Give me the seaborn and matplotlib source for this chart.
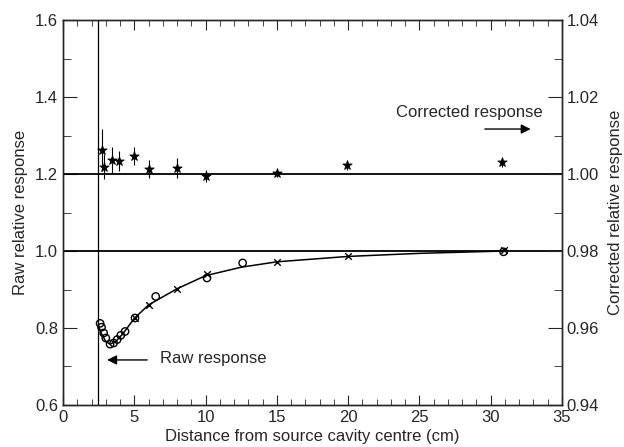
import numpy as np
import pandas as pd
import matplotlib
matplotlib.use('Agg')
import matplotlib.pyplot as plt
import seaborn as sns

sns.set_style('ticks')
plt.rcParams['font.family'] = ['Liberation Sans', 'DejaVu Sans']
plt.rcParams['axes.unicode_minus'] = False

# raw response (left axis)
curve_x = [2.5, 2.7, 3.0, 3.3, 3.7, 4.2, 5.0, 6.0, 8.0, 10.0, 12.5, 15.0, 20.0, 25.0, 30.9]
curve_y = [0.805, 0.785, 0.765, 0.758, 0.765, 0.785, 0.825, 0.860, 0.902, 0.936, 0.958, 0.972, 0.986, 0.994, 1.0]
circle_x = [2.6, 2.7, 2.85, 3.0, 3.3, 3.55, 3.8, 4.05, 4.35, 5.05, 6.5, 10.1, 12.6, 30.9]
circle_y = [0.812, 0.802, 0.787, 0.774, 0.758, 0.761, 0.770, 0.781, 0.791, 0.826, 0.882, 0.930, 0.969, 0.998]
cross_x = [5.05, 6.0, 8.0, 10.1, 15.0, 20.0, 30.9]
cross_y = [0.826, 0.859, 0.902, 0.940, 0.972, 0.986, 1.003]

# corrected response (right axis)
corr_x = [2.7, 2.9, 3.45, 3.95, 5.0, 6.0, 8.0, 10.0, 15.0, 19.9, 30.8]
corr_y = [1.0062, 1.0019, 1.0036, 1.0034, 1.0047, 1.0013, 1.0016, 0.9995, 1.0003, 1.0023, 1.0031]
corr_err = [0.0054, 0.0032, 0.0035, 0.0025, 0.0024, 0.0023, 0.0025, 0.0015, 0.0010, 0.0012, 0.0012]

cavity_edge = 2.45

fig = plt.figure(figsize=(6.24, 4.47), dpi=100)
ax = fig.add_axes([0.101, 0.094, 0.7996, 0.861])
ax2 = ax.twinx()

ax.axhline(1.0, color='black', lw=1.3)
ax.axhline(1.2, color='black', lw=1.3)
ax.axvline(cavity_edge, color='black', lw=0.9)

sns.lineplot(x=curve_x, y=curve_y, ax=ax, color='black', lw=1.1, sort=False)
sns.scatterplot(x=circle_x, y=circle_y, ax=ax, marker='o', s=28,
                facecolor='none', edgecolor='black', linewidth=1.0)
sns.scatterplot(x=cross_x, y=cross_y, ax=ax, marker='x', s=22,
                color='black', linewidth=1.0)

ax2.errorbar(corr_x, corr_y, yerr=corr_err, fmt='none', ecolor='black',
             elinewidth=0.8, capsize=0)
sns.scatterplot(x=corr_x, y=corr_y, ax=ax2, marker='*', s=50,
                color='black', edgecolor='black')

ax.set_xlim(0, 35)
ax.set_ylim(0.6, 1.6)
ax2.set_ylim(0.94, 1.04)

ax.set_xticks(np.arange(0, 36, 5))
ax.set_xticks(np.arange(0, 36, 1), minor=True)
ax.set_yticks(np.arange(0.6, 1.61, 0.2))
ax.set_yticks(np.arange(0.6, 1.61, 0.1), minor=True)
ax.set_yticklabels(['0.6', '0.8', '1.0', '1.2', '1.4', '1.6'])
ax2.set_yticks(np.arange(0.94, 1.041, 0.02))
ax2.set_yticks(np.arange(0.94, 1.041, 0.01), minor=True)
ax2.set_yticklabels(['0.94', '0.96', '0.98', '1.00', '1.02', '1.04'])

ax.tick_params(axis='both', which='both', direction='in', top=True, labelsize=12)
ax.tick_params(axis='x', which='major', length=7)
ax.tick_params(axis='x', which='minor', length=4)
ax.tick_params(axis='y', which='major', length=10)
ax.tick_params(axis='y', which='minor', length=6)
ax2.tick_params(axis='y', which='both', direction='in', labelsize=12)
ax2.tick_params(axis='y', which='major', length=10)
ax2.tick_params(axis='y', which='minor', length=6)

ax.set_xlabel('Distance from source cavity centre (cm)', fontsize=12, labelpad=3)
ax.set_ylabel('Raw relative response', fontsize=12, labelpad=5)
ax2.set_ylabel('Corrected relative response', fontsize=12, labelpad=6)

ax.text(23.35, 1.361, 'Corrected response', fontsize=12, va='center')
ax.annotate('', xy=(33.0, 1.317), xytext=(29.4, 1.317),
            arrowprops=dict(arrowstyle='-|>', color='black', lw=1.0,
                            mutation_scale=14))
ax.text(6.8, 0.721, 'Raw response', fontsize=12, va='center')
ax.annotate('', xy=(2.9, 0.717), xytext=(6.1, 0.717),
            arrowprops=dict(arrowstyle='-|>', color='black', lw=1.0,
                            mutation_scale=14))

for a in (ax, ax2):
    for s in a.spines.values():
        s.set_linewidth(1.0)

fig.savefig('out.png', dpi=100)
